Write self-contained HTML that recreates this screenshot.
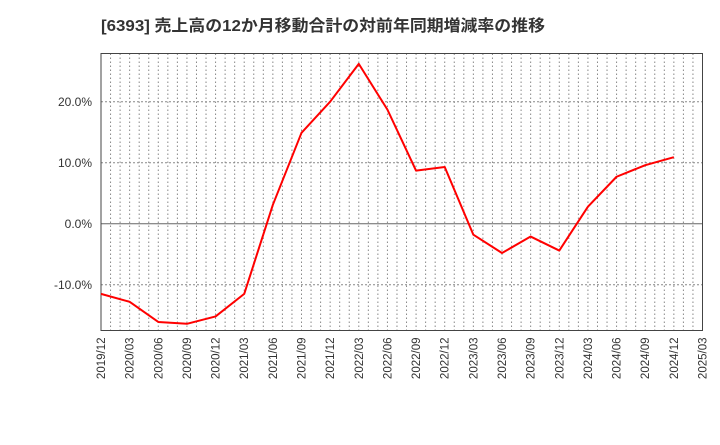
<!DOCTYPE html>
<html><head><meta charset="utf-8"><style>
body{margin:0;background:#fff;}
svg text{font-family:"Liberation Sans","Noto Sans CJK JP",sans-serif;}
</style></head><body>
<svg id="chart" width="720" height="440" xmlns="http://www.w3.org/2000/svg">
<text x="101" y="31" font-size="16" font-weight="bold" fill="#333" textLength="444" lengthAdjust="spacingAndGlyphs">[6393]  売上高の12か月移動合計の対前年同期増減率の推移</text>
<g id="grid"></g><g id="axes"></g><g id="series"></g>
</svg>
<script>
const categories=["2019/12","2020/03","2020/06","2020/09","2020/12","2021/03","2021/06","2021/09","2021/12","2022/03","2022/06","2022/09","2022/12","2023/03","2023/06","2023/09","2023/12","2024/03","2024/06","2024/09","2024/12","2025/03"];
const values=[-11.5,-12.8,-16.1,-16.4,-15.2,-11.5,3.1,14.9,20.0,26.2,18.7,8.7,9.3,-1.8,-4.8,-2.1,-4.4,2.8,7.7,9.6,10.9];
const yTicks=[-10,0,10,20];
const yTickLabels=["-10.0%","0.0%","10.0%","20.0%"];
const L=101,R=702.5,T=53.5,B=330.5;
const yMin=-17.5,yMax=27.9;
const ns="http://www.w3.org/2000/svg";
const nq=categories.length-1;
const x=i=>L+(R-L)*i/nq;
const y=v=>B-(v-yMin)/(yMax-yMin)*(B-T);
function mk(tag,attrs,parent){const e=document.createElementNS(ns,tag);for(const k in attrs)e.setAttribute(k,attrs[k]);document.getElementById(parent).appendChild(e);return e;}
for(let m=1;m<nq*3;m++){const xx=L+(R-L)*m/(nq*3);
const g=mk('line',{x1:xx,x2:xx,y1:T,y2:B,stroke:'#888','stroke-dasharray':'1.5,2.5','stroke-width':1},'grid');

}
yTicks.forEach((t,i)=>{const yy=y(t);
const g=mk('line',{x1:L,x2:R,y1:yy,y2:yy,stroke:t===0?'#666':'#888','stroke-dasharray':t===0?'':'2,2','stroke-width':1},'grid');


const tx=mk('text',{x:L-9,y:yy+4.5,'text-anchor':'end','font-size':12,fill:'#333'},'axes');
tx.textContent=yTickLabels[i];

});
const fr=mk('rect',{x:L,y:T,width:R-L,height:B-T,fill:'none',stroke:'#444','stroke-width':1},'axes');


categories.forEach((c,i)=>{const xx=x(i);
const tx=mk('text',{x:0,y:0,'text-anchor':'end','font-size':11.5,fill:'#333',transform:`translate(${xx+4},${B+7}) rotate(-90)`},'axes');
tx.textContent=c;

});
const pl=mk('polyline',{points:values.map((v,i)=>x(i)+','+y(v)).join(' '),fill:'none',stroke:'#f00','stroke-width':2,'stroke-linejoin':'round'},'series');


</script>
</body></html>
